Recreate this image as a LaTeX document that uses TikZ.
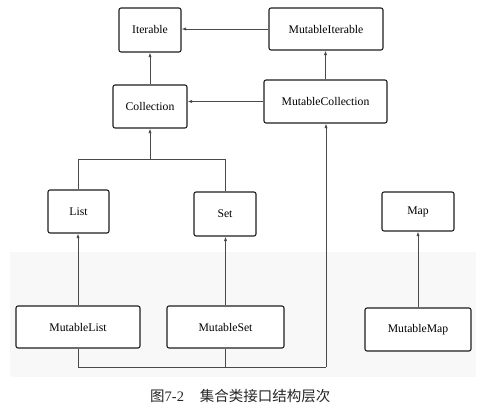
\documentclass[tikz,border=0pt]{standalone}
\usepackage{fontspec}
\setmainfont{Liberation Serif}
\newfontfamily\cjk{Noto Sans CJK SC}
\usetikzlibrary{arrows.meta}
\definecolor{boxline}{HTML}{1E1E1E}
\definecolor{conn}{HTML}{4A4A4A}
\definecolor{band}{HTML}{F8F8F8}
\begin{document}
\begin{tikzpicture}[x=1pt,y=-1pt,
  box/.style={draw=boxline, line width=1.1pt, rounded corners=2pt, fill=white,
    inner sep=0pt, font=\fontsize{11.7}{13}\selectfont},
  conn/.style={draw=conn, line width=0.8pt},
  arr/.style={conn, -{Latex[length=4.5pt,width=3.2pt]}}]
\useasboundingbox (0,0) rectangle (480,409);
\fill[band] (10,252) rectangle (476,377);
% nodes
\node[box, minimum width=62pt, minimum height=44pt] (I) at (150,30) {Iterable};
\node[box, minimum width=114pt, minimum height=42pt] (MI) at (326,29) {MutableIterable};
\node[box, minimum width=74pt, minimum height=43pt] (C) at (150,106.5) {Collection};
\node[box, minimum width=123pt, minimum height=43pt] (MC) at (325.5,101.5) {MutableCollection};
\node[box, minimum width=61pt, minimum height=43pt] (L) at (78.5,211.5) {List};
\node[box, minimum width=62pt, minimum height=44pt] (S) at (225,214) {Set};
\node[box, minimum width=72pt, minimum height=39pt] (M) at (418,211.5) {Map};
\node[box, minimum width=124pt, minimum height=42pt] (ML) at (78,327) {MutableList};
\node[box, minimum width=117pt, minimum height=42pt] (MS) at (225.5,327) {MutableSet};
\node[box, minimum width=106pt, minimum height=43pt] (MM) at (418,329.5) {MutableMap};
\coordinate (J) at (150,159);
\coordinate (B) at (326,367);
% connectors
\draw[arr] (MI.west) -- (MI.west -| I.east);
\draw[arr] (MC.west) -- (MC.west -| C.east);
\draw[arr] (C.north) -- (I.south);
\draw[arr] (MC.north) -- (MC.north |- MI.south);
\draw[conn] (L.north) |- (S.north |- J) -- (S.north);
\draw[arr] (J) -- (C.south);
\draw[conn] (ML.south) |- (B);
\draw[conn] (MS.south) -- (MS.south |- B);
\draw[arr] (B) -- (B |- MC.south);
\draw[arr] (ML.north) -- (ML.north |- L.south);
\draw[arr] (MS.north) -- (MS.north |- S.south);
\draw[arr] (MM.north) -- (MM.north |- M.south);
% caption
\node[anchor=west, inner sep=0pt, font=\fontsize{14.5}{17}\selectfont, text=black!85] (cap) at (150,396) {{\cjk 图}7-2\hspace{1.1em}{\cjk 集合类接口结构层次}};
\end{tikzpicture}
\end{document}
